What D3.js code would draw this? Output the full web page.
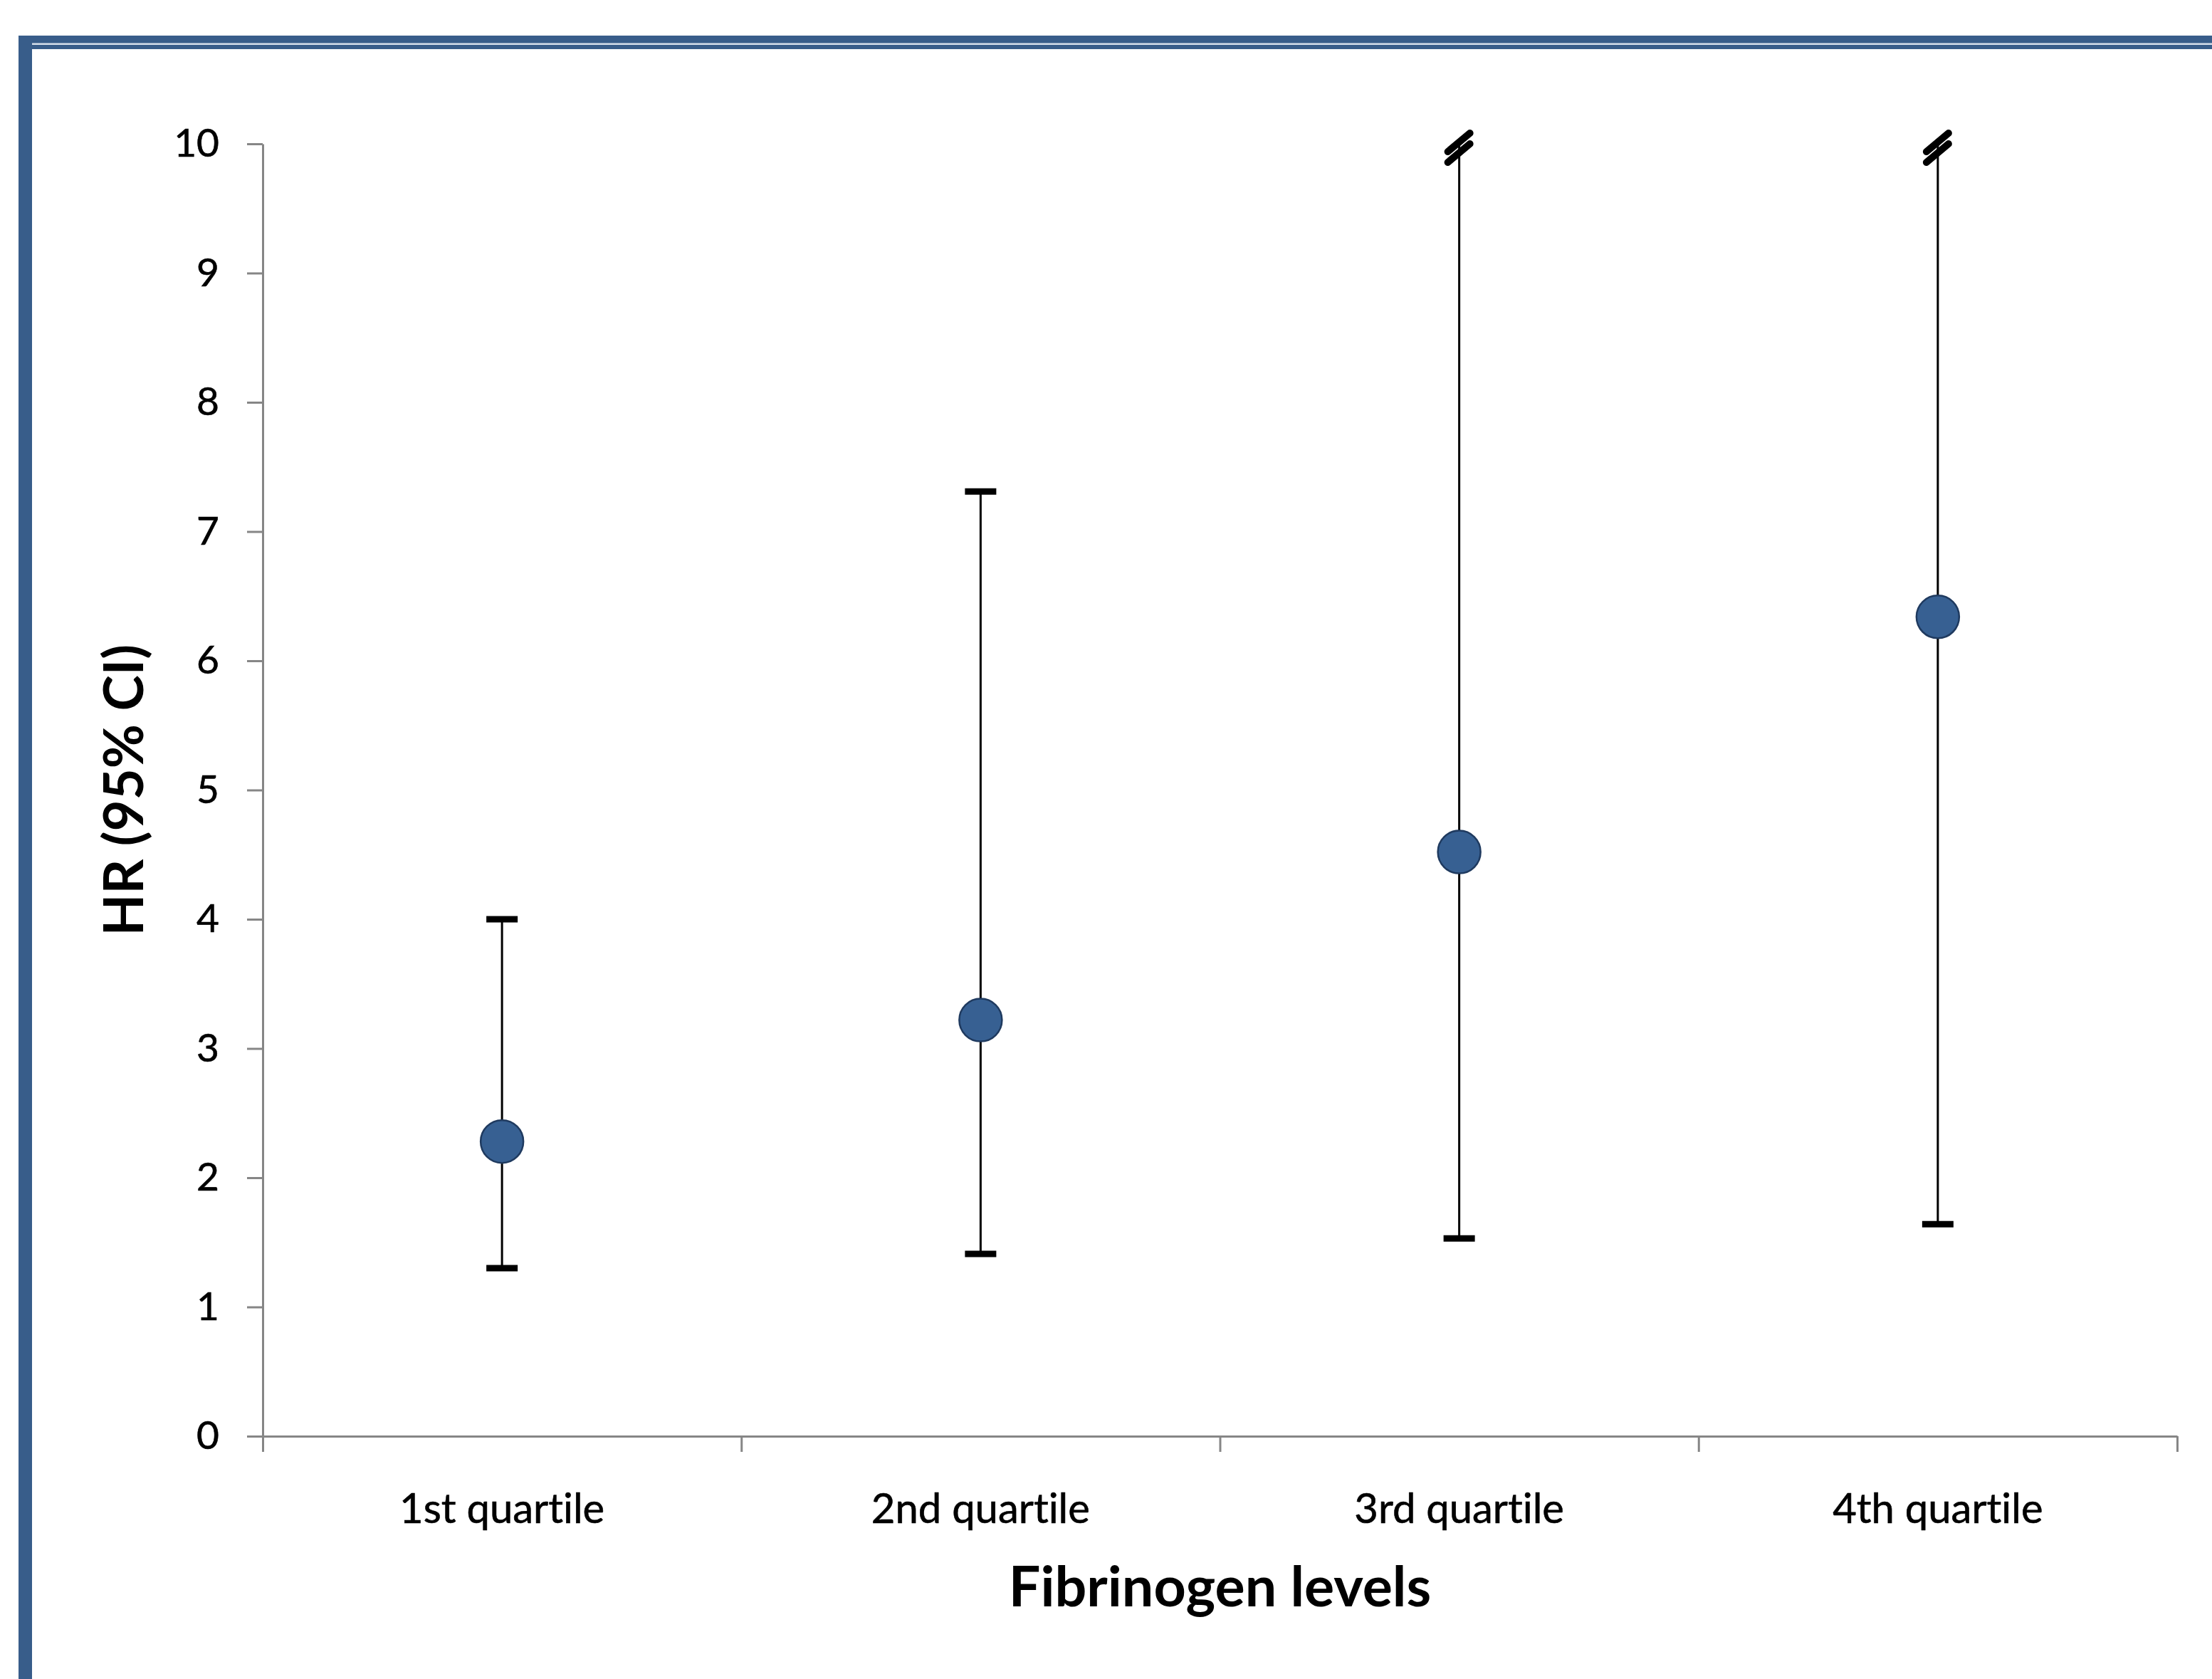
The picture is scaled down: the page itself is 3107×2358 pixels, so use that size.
<!DOCTYPE html>
<html>
<head>
<meta charset="utf-8">
<script src="https://cdn.jsdelivr.net/npm/d3@7"></script>
<style>
  body { margin: 0; background: #fff; }
  svg { display: block; }
  text { font-variant-ligatures: none; font-feature-settings: "liga" 0, "clig" 0; }
</style>
</head>
<body>
<div id="chart"></div>
<script>
const categories = ['1st quartile', '2nd quartile', '3rd quartile', '4th quartile'];
const hr = [2.28, 3.22, 4.52, 6.34];
const lower = [1.3, 1.41, 1.53, 1.64];
const upper = [4.0, 7.31, 10, 10];
const truncated = [false, false, true, true];
const yTicks = [0, 1, 2, 3, 4, 5, 6, 7, 8, 9, 10];

const W = 3107, H = 2358;
const margin = { left: 369, right: 49, top: 202, bottom: 341 };
const BORDER = '#385d8a';
const AXIS = '#868686';
const FONT = 'Lato, "Open Sans", sans-serif';

const svg = d3.select('#chart').append('svg')
  .attr('width', W).attr('height', H);

svg.append('rect').attr('width', W).attr('height', H).attr('fill', '#fff');

// frame: double top line + thick left bar
svg.append('rect').attr('x', 26).attr('y', 50).attr('width', W - 26).attr('height', 19).attr('fill', BORDER);
svg.append('rect').attr('x', 37).attr('y', 60.5).attr('width', W - 37).attr('height', 2.5).attr('fill', '#d6dfea');
svg.append('rect').attr('x', 26).attr('y', 50).attr('width', 19).attr('height', H - 50).attr('fill', BORDER);

const x = d3.scaleBand().domain(categories).range([margin.left, W - margin.right]);
const xEdge = d3.scaleLinear().domain([0, categories.length]).range([margin.left, W - margin.right]);
const y = d3.scaleLinear().domain([0, 10]).range([H - margin.bottom, margin.top]);

// y axis
const gy = svg.append('g').attr('transform', `translate(${margin.left},0)`)
  .call(d3.axisLeft(y).tickValues(yTicks).tickSize(22).tickPadding(39).tickSizeOuter(0));
gy.select('.domain').attr('stroke', AXIS).attr('stroke-width', 3);
gy.selectAll('.tick line').attr('stroke', AXIS).attr('stroke-width', 3);
gy.selectAll('.tick text').attr('font-family', FONT).attr('font-size', 55).attr('fill', '#000')
  .attr('stroke', '#000').attr('stroke-width', 0.6);

// x axis: ticks on category boundaries, labels at centres
const gx = svg.append('g').attr('transform', `translate(0,${y(0)})`)
  .call(d3.axisBottom(xEdge).ticks(categories.length).tickSize(22).tickFormat('').tickSizeOuter(0));
gx.select('.domain').attr('stroke', AXIS).attr('stroke-width', 3);
gx.selectAll('.tick line').attr('stroke', AXIS).attr('stroke-width', 3);

const gl = svg.append('g').attr('transform', `translate(0,${y(0)})`)
  .call(d3.axisBottom(x).tickSize(0));
gl.select('.domain').remove();
gl.selectAll('.tick text').attr('y', 122).attr('dy', null)
  .attr('font-family', FONT).attr('font-size', 58).attr('fill', '#000')
  .attr('stroke', '#000').attr('stroke-width', 0.6);

// axis titles
svg.append('text')
  .attr('x', xEdge(categories.length / 2)).attr('y', 2256)
  .attr('text-anchor', 'middle')
  .attr('font-family', FONT).attr('font-weight', 700).attr('font-size', 79)
  .text('Fibrinogen levels');

svg.append('text')
  .attr('transform', `translate(201,${y(5)}) rotate(-90)`)
  .attr('text-anchor', 'middle')
  .attr('font-family', FONT).attr('font-weight', 700).attr('font-size', 76)
  .text('HR (95% CI)');

const rows = categories.map((c, i) => ({
  cat: c, hr: hr[i], lo: lower[i], hi: upper[i], cut: truncated[i]
}));
const cx = d => x(d.cat) + x.bandwidth() / 2;

const bars = svg.append('g');
bars.selectAll('line.whisker').data(rows).enter().append('line')
  .attr('x1', cx).attr('x2', cx)
  .attr('y1', d => y(d.lo)).attr('y2', d => y(d.hi))
  .attr('stroke', '#000').attr('stroke-width', 3);

// caps (not drawn where the interval is cut off)
bars.selectAll('line.lo').data(rows).enter().append('line')
  .attr('x1', d => cx(d) - 22).attr('x2', d => cx(d) + 22)
  .attr('y1', d => y(d.lo)).attr('y2', d => y(d.lo))
  .attr('stroke', '#000').attr('stroke-width', 9);
bars.selectAll('line.hi').data(rows.filter(d => !d.cut)).enter().append('line')
  .attr('x1', d => cx(d) - 22).attr('x2', d => cx(d) + 22)
  .attr('y1', d => y(d.hi)).attr('y2', d => y(d.hi))
  .attr('stroke', '#000').attr('stroke-width', 9);

// break marks on truncated intervals
const breaks = rows.filter(d => d.cut);
[-2, 13].forEach(off => {
  bars.selectAll(null).data(breaks).enter().append('line')
    .attr('x1', d => cx(d) - 16).attr('x2', d => cx(d) + 15)
    .attr('y1', d => y(d.hi) + off + 13).attr('y2', d => y(d.hi) + off - 13)
    .attr('stroke', '#000').attr('stroke-width', 10).attr('stroke-linecap', 'round');
});

svg.append('g').selectAll('circle').data(rows).enter().append('circle')
  .attr('cx', cx).attr('cy', d => y(d.hr)).attr('r', 30)
  .attr('fill', '#376092').attr('stroke', '#1f3a5f').attr('stroke-width', 2.5);
</script>
</body>
</html>
